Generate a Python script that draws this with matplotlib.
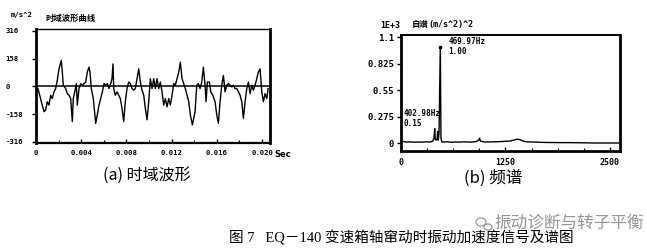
import matplotlib
matplotlib.use("Agg")
import matplotlib.pyplot as plt
from matplotlib.patches import Ellipse
from matplotlib.ticker import MultipleLocator

# ---- time-domain acceleration (s, m/s^2) ----
time_s = [
    0.000177, 0.000708, 0.000858, 0.001000, 0.001150, 0.001301, 0.001443, 0.001593,
    0.001743, 0.001885, 0.002036, 0.002239, 0.002328, 0.002416, 0.002628, 0.002770,
    0.002921, 0.003071, 0.003213, 0.003301, 0.003425, 0.003567, 0.003655, 0.003806,
    0.003956, 0.004098, 0.004248, 0.004398, 0.004540, 0.004691, 0.004779, 0.004894,
    0.005071, 0.005283, 0.005425, 0.005576, 0.005726, 0.005868, 0.006018, 0.006168,
    0.006310, 0.006461, 0.006611, 0.006726, 0.006815, 0.006876, 0.007018, 0.007169,
    0.007319, 0.007461, 0.007611, 0.007761, 0.007903, 0.008054, 0.008204, 0.008346,
    0.008496, 0.008646, 0.008788, 0.008939, 0.009089, 0.009231, 0.009381, 0.009531,
    0.009673, 0.009824, 0.009974, 0.010116, 0.010266, 0.010416, 0.010558, 0.010709,
    0.010859, 0.011001, 0.011151, 0.011301, 0.011443, 0.011594, 0.011744, 0.011886,
    0.012036, 0.012186, 0.012328, 0.012479, 0.012629, 0.012771, 0.012921, 0.013071,
    0.013213, 0.013364, 0.013514, 0.013656, 0.013833, 0.014072, 0.014222, 0.014364,
    0.014514, 0.014664, 0.014806, 0.014957, 0.015045, 0.015160, 0.015337, 0.015461,
    0.015638, 0.015842, 0.015992, 0.016134, 0.016284, 0.016434, 0.016576, 0.016727,
    0.016877, 0.017019, 0.017169, 0.017319, 0.017461, 0.017612, 0.017762, 0.017904,
    0.018054, 0.018204, 0.018346, 0.018497, 0.018647, 0.018789, 0.018939, 0.019089,
    0.019231, 0.019382, 0.019532, 0.019674, 0.019824, 0.019974, 0.020116, 0.020267,
    0.020417, 0.020532,
]
accel = [
    -12, -144, -134, -87, -106, -50, -69, -31,
    -12, 35, 100, 148, 82, 7, -12, -41,
    -50, -69, -200, -69, -31, 16, -106, -12,
    16, 7, 16, 25, 82, 110, 82, -12,
    -69, -210, -162, -106, -69, -31, 16, 7,
    16, -12, 16, 44, 128, -12, -50, -31,
    -50, -69, -125, -200, -87, -12, 25, 16,
    -12, -21, -12, 44, 100, 25, -21, -50,
    -125, -190, -87, 44, -12, 44, -12, 44,
    -12, 25, -31, -106, -69, -116, -69, -106,
    -50, 16, 7, 44, 82, 138, 44, 16,
    -12, -50, -87, -162, -219, -144, 7, 16,
    -12, 25, 110, 7, -87, 25, 25, -31,
    -50, -87, -162, -210, -87, 7, 63, -31,
    7, 16, 7, -3, 7, -12, -12, -31,
    -50, -87, -181, -87, -12, 25, -41, 7,
    -21, 7, 44, 82, 100, -31, -87, -41,
    -69, -12,
]
time_ticks = [0, 0.004, 0.008, 0.012, 0.016, 0.020]
time_tick_labels = ["0", "0.004", "0.008", "0.012", "0.016", "0.020"]
accel_ticks = [316, 158, 0, -158, -316]
accel_tick_labels = ["316", "158", "0", "-158", "-316"]

# ---- auto spectrum (Hz, 1E+3 (m/s^2)^2) ----
freq_hz = [
    0, 30, 60, 100, 150, 200, 250, 300, 350, 380, 395, 402.98, 410, 420, 432, 438,
    445, 455, 469.97, 478, 490, 550, 600, 650, 700, 750, 800, 850, 900, 930, 940,
    950, 1000, 1100, 1200, 1300, 1350, 1390, 1420, 1460, 1500, 1600, 1700, 1800,
    1900, 2000, 2100, 2200, 2300, 2400, 2500, 2600,
]
power = [
    0.02, 0.015, 0.01, 0.012, 0.008, 0.01, 0.009, 0.012, 0.01, 0.02, 0.05, 0.15,
    0.04, 0.03, 0.04, 0.12, 0.03, 0.10, 1.00, 0.05, 0.01, 0.012, 0.008, 0.01, 0.009,
    0.012, 0.01, 0.01, 0.015, 0.03, 0.05, 0.02, 0.01, 0.012, 0.015, 0.02, 0.03, 0.04,
    0.035, 0.02, 0.012, 0.01, 0.006, 0.005, 0.004, 0.004, 0.003, 0.002, 0.0, 0.0,
    0.0, 0.0,
]
freq_ticks = [0, 1250, 2500]
freq_tick_labels = ["0", "1250", "2500"]
power_ticks = [1.1, 0.825, 0.55, 0.275, 0]
power_tick_labels = ["1.1", "0.825", "0.55", "0.275", "0"]
peak_main = (469.97, 1.00)
peak_side = (402.98, 0.15)

MONO = dict(family="DejaVu Sans Mono", fontweight="bold", fontsize=5.2)
CJK = ["Noto Sans CJK SC", "DejaVu Sans"]

fig = plt.figure(figsize=(6.47, 2.5), dpi=100)
fig.patch.set_facecolor("white")

# ---------------- time waveform ----------------
ax1 = fig.add_axes([0.0556, 0.428, 0.3617, 0.456])
ax1.plot(time_s, accel, color="black", lw=1.0)
ax1.axhline(0, color="black", lw=1.1)
ax1.set_xlim(0, 0.0207)
ax1.set_ylim(-322, 327)
ax1.set_xticks(time_ticks)
ax1.set_xticklabels(time_tick_labels, **MONO)
ax1.set_yticks(accel_ticks)
ax1.set_yticklabels(accel_tick_labels, **MONO)
for lab in ax1.get_yticklabels():
    lab.set_horizontalalignment("left")
ax1.tick_params(axis="y", direction="out", length=3, width=1, pad=19)
ax1.tick_params(axis="x", direction="in", length=3, width=1, pad=5)
ax1.xaxis.set_minor_locator(MultipleLocator(0.002))
ax1.tick_params(axis="x", which="minor", direction="in", length=2, width=0.8)
for side, w in (("left", 2.0), ("right", 2.0), ("top", 1.0), ("bottom", 1.6)):
    ax1.spines[side].set_linewidth(w)
ax1.text(1.018, -0.105, "Sec", transform=ax1.transAxes, ha="left", va="center",
         family="DejaVu Sans", fontweight="bold", fontsize=6)
fig.text(11 / 647, 1 - 15 / 250, "m/s^2", ha="left", va="center", **MONO)
fig.text(45 / 647, 1 - 18 / 250, "时域波形曲线", ha="left", va="center",
         family=CJK, fontweight="bold", fontsize=6)
fig.text(147 / 647, 1 - 175 / 250, "(a) 时域波形", ha="center", va="center",
         family=CJK, fontsize=11.5)

# ---------------- spectrum ----------------
ax2 = fig.add_axes([0.6198, 0.396, 0.3385, 0.464])
ax2.plot(freq_hz, power, color="black", lw=1.0)
ax2.plot([peak_main[0]], [peak_main[1]], marker="s", ms=2, color="black")
ax2.set_xlim(0, 2620)
ax2.set_ylim(-0.083, 1.121)
ax2.set_xticks(freq_ticks)
ax2.set_xticklabels(freq_tick_labels, **dict(MONO, fontsize=6))
ax2.set_yticks(power_ticks)
ax2.set_yticklabels(power_tick_labels, **dict(MONO, fontsize=6.5))
ax2.tick_params(axis="y", direction="out", length=3, width=1, pad=2)
ax2.tick_params(axis="x", direction="in", length=3, width=1, pad=5)
ax2.xaxis.set_minor_locator(MultipleLocator(312.5))
ax2.tick_params(axis="x", which="minor", direction="in", length=2, width=0.8)
for side, w in (("left", 2.0), ("right", 2.0), ("top", 1.4), ("bottom", 2.0)):
    ax2.spines[side].set_linewidth(w)
ax2.annotate(f"{peak_main[0]:.2f}Hz\n{peak_main[1]:.2f}", xy=peak_main,
             xytext=(6, 7), textcoords="offset points", ha="left", va="top",
             linespacing=1.1, **dict(MONO, fontsize=5.5))
ax2.annotate(f"{peak_side[0]:.2f}Hz\n{peak_side[1]:.2f}", xy=(0, peak_side[1]),
             xytext=(2, 14), textcoords="offset points", ha="left", va="top",
             linespacing=1.1, **dict(MONO, fontsize=5.5))
fig.text(380 / 647, 1 - 25 / 250, "1E+3", ha="left", va="center", **dict(MONO, fontsize=6))
fig.text(412 / 647, 1 - 25 / 250, "自谱", ha="left", va="center",
         family=CJK, fontweight="bold", fontsize=6)
fig.text(428 / 647, 1 - 25 / 250, "(m/s^2)^2", ha="left", va="center", **dict(MONO, fontsize=6))
fig.text(493 / 647, 1 - 178 / 250, "(b) 频谱", ha="center", va="center",
         family=CJK, fontsize=12)

# ---------------- figure caption and watermark ----------------
fig.text(401 / 647, 1 - 238 / 250, "图 7   EQ－140 变速箱轴窜动时振动加速度信号及谱图",
         ha="center", va="center", family=["Liberation Serif", "Noto Sans CJK SC"],
         fontsize=10.5)
fig.text(569 / 647, 1 - 223 / 250, "振动诊断与转子平衡", ha="center", va="center",
         family=CJK, fontsize=12, color="#8a8a8a", alpha=0.9)
for cx, cy, w, h in ((481, 222, 10, 8), (488, 227, 8, 6)):
    fig.patches.append(Ellipse((cx / 647, 1 - cy / 250), w / 647, h / 250,
                               transform=fig.transFigure, fill=False,
                               edgecolor="#9a9a9a", lw=0.9))

fig.savefig("out.png", dpi=100, facecolor="white")
